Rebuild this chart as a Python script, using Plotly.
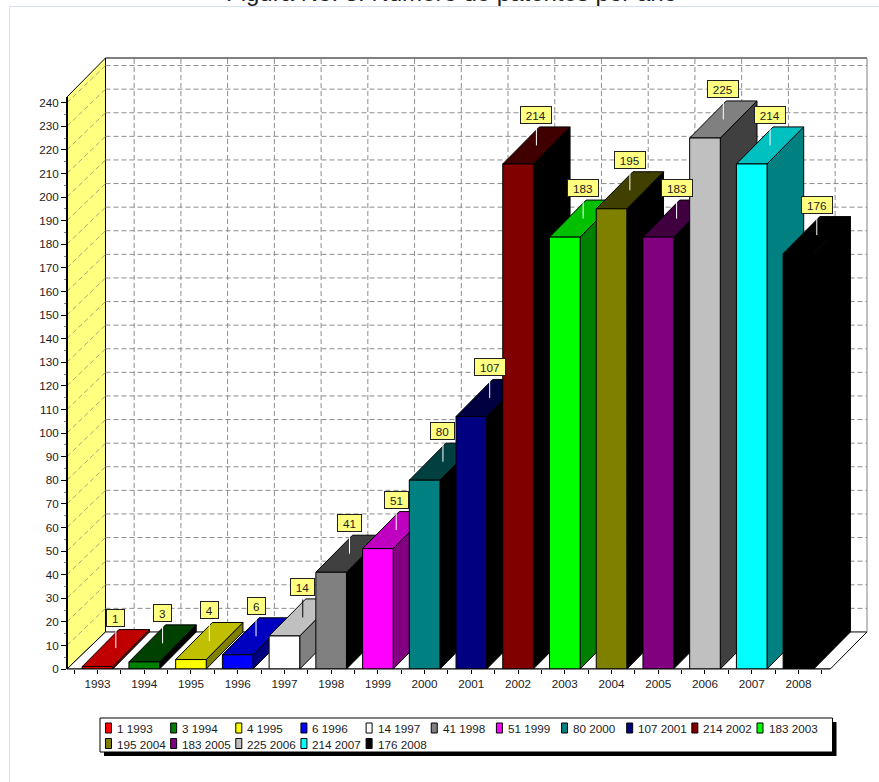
import plotly.graph_objects as go

# Patents granted per year
years = [1993, 1994, 1995, 1996, 1997, 1998, 1999, 2000,
         2001, 2002, 2003, 2004, 2005, 2006, 2007, 2008]
patents = [1, 3, 4, 6, 14, 41, 51, 80, 107, 214, 183, 195, 183, 225, 214, 176]
y_ticks = list(range(0, 250, 10))

# Face shading of each prism: front, top, side
front_colors = ["#ff0000", "#008000", "#ffff00", "#0000ff", "#ffffff", "#808080", "#ff00ff", "#008080",
                "#000080", "#800000", "#00ff00", "#808000", "#800080", "#c0c0c0", "#00ffff", "#000000"]
top_colors = ["#c00000", "#004000", "#c0c000", "#0000c0", "#c0c0c0", "#404040", "#c000c0", "#004040",
              "#000040", "#400000", "#00c000", "#404000", "#400040", "#808080", "#00c0c0", "#000000"]
side_colors = ["#800000", "#000000", "#808000", "#000080", "#808080", "#000000", "#800080", "#000000",
               "#000000", "#000000", "#008000", "#000000", "#000000", "#404040", "#008080", "#000000"]
leader_colors = ["#ffffff"] * 16
leader_colors[4] = "#000000"

# Page layout, in pixels
WIDTH, HEIGHT = 879, 782
M_L, M_R, M_T, M_B = 67, 12, 58, 113

# Axis ranges: the plot area spans the whole oblique box
X_MIN, X_MAX = -0.6527, 16.467
Y_TOP = 258.9
WALL_TOP = 242.4

# Oblique projection offset of the box, in axis units
DX, DY = 0.785, 15.7
WALL_DX = 0.824
X_END = X_MAX - DX
BAR_W = 0.655

INK = "#1c1c1c"
GRID = "#8c8c8c"
WALL_GRID = "#a8a878"
FONT = "Liberation Sans, Arial, sans-serif"


def px_x(p):
    return (p - M_L) / (WIDTH - M_L - M_R)


def px_y(p):
    return (HEIGHT - M_B - p) / (HEIGHT - M_T - M_B)


def x_frac(v):
    return (v - X_MIN) / (X_MAX - X_MIN)


def poly(xs, ys, fill, line="#000000", width=1):
    return go.Scatter(x=xs + xs[:1], y=ys + ys[:1], mode="lines", fill="toself", fillcolor=fill,
                      line=dict(color=line, width=width), hoverinfo="skip", showlegend=False)


def dashed(xs, ys, color=GRID):
    return go.Scatter(x=xs, y=ys, mode="lines", line=dict(color=color, width=1, dash="5px,3px"),
                      hoverinfo="skip", showlegend=False)


fig = go.Figure()

# Left wall of the box
wall_x = X_MIN + WALL_DX
fig.add_trace(poly([X_MIN, wall_x, wall_x, X_MIN], [0, DY, Y_TOP, WALL_TOP], "#ffff80"))

# Dashed grid on the back wall and the left wall
for v in y_ticks[1:]:
    fig.add_trace(dashed([wall_x, X_MAX], [v + DY, v + DY]))
    fig.add_trace(dashed([X_MIN, wall_x], [v, v + DY], WALL_GRID))
for i in range(len(years)):
    fig.add_trace(dashed([i + DX, i + DX], [DY, Y_TOP]))

# Floor
fig.add_trace(poly([X_MIN, X_END, X_MAX, wall_x], [0, 0, DY, DY], "#ffffff"))

# Prisms, painted from the first year to the last so nearer faces overlap
for i, v in enumerate(patents):
    x0, x1 = i - BAR_W / 2, i + BAR_W / 2
    fig.add_trace(poly([x1, x1 + DX, x1 + DX, x1], [0, DY, v + DY, v], side_colors[i]))
    fig.add_trace(poly([x0, x1, x1 + DX, x0 + DX], [v, v, v + DY, v + DY], top_colors[i]))
    fig.add_trace(poly([x0, x1, x1, x0], [0, 0, v, v], front_colors[i]))

# Leader strokes from each top face up to its value label
for i, v in enumerate(patents):
    fig.add_trace(go.Scatter(x=[i + DX / 2, i + DX / 2], y=[v + DY / 2, v + DY / 2 + 7.6], mode="lines",
                             line=dict(color=leader_colors[i], width=1),
                             hoverinfo="skip", showlegend=False))

annotations = []
for i, v in enumerate(patents):
    digits = len(str(v))
    annotations.append(dict(
        x=i + DX / 2, y=v + 17.0, xref="x", yref="y", text=str(v), showarrow=False,
        xanchor="center", yanchor="bottom", width=6.5 * digits + 10, height=16,
        bgcolor="#ffff80", bordercolor="#202020", borderwidth=1, borderpad=0,
        font=dict(family=FONT, size=11.7, color=INK)))

annotations.append(dict(
    x=px_x(451), y=px_y(8), xref="paper", yref="paper", showarrow=False,
    xanchor="center", yanchor="bottom", text="Figura No. 8. Número de patentes por año",
    font=dict(family=FONT, size=24, color="#222222")))

# Page rule along the left and top edges
shapes = [dict(type="path", xref="paper", yref="paper",
               path=f"M {px_x(9.5)} {px_y(782)} L {px_x(9.5)} {px_y(6.5)} L {px_x(879)} {px_y(6.5)}",
               line=dict(color="#d8e0f8", width=1))]


def edge(x0, y0, x1, y1, color, width):
    return dict(type="line", xref="paper", yref="paper", x0=x0, y0=y0, x1=x1, y1=y1,
                line=dict(color=color, width=width))


# Box outline and the two axis lines, kept clear of the plot-area clip
shapes += [
    edge(x_frac(wall_x), 1, 1, 1, "#000000", 1),
    edge(1, DY / Y_TOP, 1, 1, "#808080", 1),
    edge(0, 0, 0, WALL_TOP / Y_TOP, "#000000", 2),
    edge(0, 0, x_frac(X_END), 0, "#000000", 1),
]

# Legend panel with its drop shadow
LEG_X0, LEG_Y0, LEG_X1, LEG_Y1 = 100, 718, 832.5, 752
shapes.append(dict(type="rect", xref="paper", yref="paper", x0=px_x(LEG_X0 + 4), x1=px_x(LEG_X1 + 4),
                   y0=px_y(LEG_Y0 + 4), y1=px_y(LEG_Y1 + 4), fillcolor="#000000", line=dict(width=0)))
shapes.append(dict(type="rect", xref="paper", yref="paper", x0=px_x(LEG_X0), x1=px_x(LEG_X1),
                   y0=px_y(LEG_Y0), y1=px_y(LEG_Y1), fillcolor="#ffffff", line=dict(color="#000000", width=1)))
COLS = 11
for i, (v, yr) in enumerate(zip(patents, years)):
    col, row = i % COLS, i // COLS
    sx = 105.5 + col * 65.15
    sy = 728 + row * 15.5
    shapes.append(dict(type="rect", xref="paper", yref="paper", x0=px_x(sx), x1=px_x(sx + 6),
                       y0=px_y(sy - 5), y1=px_y(sy + 5), fillcolor=front_colors[i],
                       line=dict(color="#000000", width=1)))
    annotations.append(dict(x=px_x(sx + 9.5), y=px_y(sy + 0.5), xref="paper", yref="paper", showarrow=False,
                            xanchor="left", yanchor="middle", text=f"{v} {yr}",
                            font=dict(family=FONT, size=11.7, color=INK)))

fig.update_layout(
    width=WIDTH, height=HEIGHT, autosize=False,
    margin=dict(l=M_L, r=M_R, t=M_T, b=M_B, pad=0),
    paper_bgcolor="#ffffff", plot_bgcolor="rgba(0,0,0,0)",
    showlegend=False, hovermode=False,
    font=dict(family=FONT, size=11.7, color=INK),
    annotations=annotations, shapes=shapes,
    xaxis=dict(range=[X_MIN, X_MAX], tickmode="array", tickvals=list(range(len(years))),
               ticktext=[str(y) for y in years], showgrid=False, zeroline=False, showline=False,
               ticks="outside", ticklen=4, tickcolor="#000000",
               minor=dict(ticks="outside", ticklen=4, tickcolor="#000000", showgrid=False,
                          tickmode="array", tickvals=[i - 0.5 for i in range(len(years) + 1)])),
    yaxis=dict(range=[0, Y_TOP], tickmode="array", tickvals=y_ticks, ticktext=[str(t) for t in y_ticks],
               showgrid=False, zeroline=False, showline=False,
               ticks="outside", ticklen=5, tickcolor="#000000",
               minor=dict(ticks="outside", ticklen=2, tickcolor="#808080", showgrid=False,
                          tickmode="array", tickvals=[t + 5 for t in y_ticks[:-1]])),
)

fig.write_html("out.html", config=dict(displayModeBar=False))
